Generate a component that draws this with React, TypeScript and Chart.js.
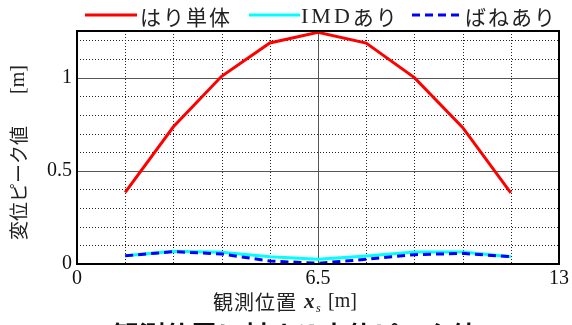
import React, { useEffect, useRef } from "react";
import { Chart, registerables } from "chart.js";

Chart.register(...registerables);

// ---- data ----
const positions = [1.3, 2.6, 3.9, 5.2, 6.5, 7.8, 9.1, 10.4, 11.7];
const beamOnly = [0.384, 0.736, 1.007, 1.186, 1.243, 1.185, 1.0, 0.733, 0.382];
const withIMD = [0.044, 0.068, 0.063, 0.039, 0.025, 0.043, 0.064, 0.065, 0.039];
const withSpring = [0.044, 0.066, 0.054, 0.016, 0.004, 0.025, 0.05, 0.057, 0.039];
const seriesNames = ["はり単体", "IMDあり", "ばねあり"];
const xTickLabels = [0, 6.5, 13];
const yTickLabels = [0, 0.5, 1];
const xGridValues = [1.3, 2.6, 3.9, 5.2, 6.5, 7.8, 9.1, 10.4, 11.7];
const yGridValues = [0.1, 0.2, 0.3, 0.4, 0.5, 0.6, 0.7, 0.8, 0.9, 1.0, 1.1, 1.2];
const xSolidGrid = [6.5];
const ySolidGrid = [0.5, 1.0];
const yAxisTitle = "変位ピーク値";
const axisUnit = "[m]";
const xAxisTitle = "観測位置";
const caption = "観測位置に対する変位ピーク値";

const SERIF = '"Liberation Serif", "DejaVu Serif", serif';
const JP = '"Noto Sans CJK JP", sans-serif';

const decorPlugin = {
  id: "decor",
  beforeDatasetsDraw(chart: any) {
    const { ctx, chartArea: a, scales } = chart;
    const xs = scales.x;
    const ys = scales.y;
    ctx.save();
    ctx.lineWidth = 1;
    for (const v of xGridValues) {
      const px = Math.round(xs.getPixelForValue(v)) + 0.5;
      const solid = xSolidGrid.some((s) => Math.abs(s - v) < 1e-6);
      ctx.beginPath();
      ctx.strokeStyle = solid ? "#555" : "#222";
      ctx.setLineDash(solid ? [] : [1, 2]);
      ctx.moveTo(px, a.top);
      ctx.lineTo(px, a.bottom);
      ctx.stroke();
    }
    for (const v of yGridValues) {
      const py = Math.round(ys.getPixelForValue(v)) + 0.5;
      const solid = ySolidGrid.some((s) => Math.abs(s - v) < 1e-6);
      ctx.beginPath();
      ctx.strokeStyle = solid ? "#555" : "#222";
      ctx.setLineDash(solid ? [] : [1, 2]);
      ctx.moveTo(a.left, py);
      ctx.lineTo(a.right, py);
      ctx.stroke();
    }
    ctx.restore();
  },
  afterDatasetsDraw(chart: any) {
    const { ctx, chartArea: a } = chart;
    ctx.save();
    ctx.strokeStyle = "#000";
    ctx.lineWidth = 2;
    ctx.setLineDash([]);
    ctx.strokeRect(a.left, a.top, a.right - a.left, a.bottom - a.top);
    ctx.restore();
  },
  afterDraw(chart: any) {
    const { ctx } = chart;
    ctx.save();
    ctx.textBaseline = "middle";
    ctx.fillStyle = "#222";

    // legend
    const ly = 15;
    const legendItems = [
      { x0: 85, x1: 137, tx: 140, color: "#ff0000", dash: [] as number[], name: seriesNames[0] },
      { x0: 249, x1: 300, tx: 301, color: "#00ffff", dash: [] as number[], name: seriesNames[1] },
      { x0: 412, x1: 463, tx: 465, color: "#0000ff", dash: [8, 5], name: seriesNames[2] },
    ];
    for (const it of legendItems) {
      ctx.beginPath();
      ctx.strokeStyle = it.color;
      ctx.lineWidth = 3;
      ctx.setLineDash(it.dash);
      ctx.moveTo(it.x0, ly);
      ctx.lineTo(it.x1, ly);
      ctx.stroke();
      ctx.setLineDash([]);
      ctx.textAlign = "left";
      let x = it.tx;
      const m = it.name.match(/^([A-Za-z]+)(.*)$/);
      if (m) {
        ctx.font = `22px ${SERIF}`;
        (ctx as any).letterSpacing = "3px";
        ctx.fillText(m[1], x, ly + 2);
        x += ctx.measureText(m[1]).width;
        ctx.font = `21px ${JP}`;
        (ctx as any).letterSpacing = "2px";
        ctx.fillText(m[2], x, ly + 2);
      } else {
        ctx.font = `21px ${JP}`;
        (ctx as any).letterSpacing = "2px";
        ctx.fillText(it.name, x, ly + 2);
      }
      (ctx as any).letterSpacing = "0px";
    }

    // y axis title
    ctx.save();
    ctx.translate(19, 0);
    ctx.rotate(-Math.PI / 2);
    ctx.textAlign = "left";
    ctx.font = `19px ${JP}`;
    ctx.fillText(yAxisTitle, -240, 0);
    ctx.font = `20px ${SERIF}`;
    ctx.fillText(axisUnit, -94, 0);
    ctx.restore();

    // x axis title
    const ty = 302;
    ctx.textAlign = "left";
    ctx.font = `20px ${JP}`;
    (ctx as any).letterSpacing = "1px";
    ctx.fillText(xAxisTitle, 213, ty);
    (ctx as any).letterSpacing = "0px";
    ctx.font = `bold italic 21px ${SERIF}`;
    ctx.fillText("x", 304, ty + 1);
    ctx.font = `italic 12px ${SERIF}`;
    ctx.fillText("s", 316, ty + 7);
    ctx.font = `20px ${SERIF}`;
    ctx.fillText(axisUnit, 328, ty);

    // caption (cut off at the bottom)
    ctx.font = `bold 26px ${JP}`;
    ctx.textBaseline = "top";
    ctx.fillStyle = "#111";
    ctx.fillText(caption, 113, 322);
    ctx.restore();
  },
};

export default function App() {
  const ref = useRef<HTMLCanvasElement | null>(null);
  useEffect(() => {
    if (!ref.current) return;
    const chart = new Chart(ref.current, {
      type: "line",
      data: {
        datasets: [
          {
            label: seriesNames[0],
            data: positions.map((x, i) => ({ x, y: beamOnly[i] })),
            borderColor: "#ff0000",
            borderWidth: 3,
            pointRadius: 0,
            tension: 0,
            fill: false,
          },
          {
            label: seriesNames[2],
            data: positions.map((x, i) => ({ x, y: withSpring[i] })),
            borderColor: "#0000ff",
            borderWidth: 3,
            borderDash: [8, 5],
            pointRadius: 0,
            tension: 0,
            fill: false,
          },
          {
            label: seriesNames[1],
            data: positions.map((x, i) => ({ x, y: withIMD[i] })),
            borderColor: "#00ffff",
            borderWidth: 3,
            pointRadius: 0,
            tension: 0,
            fill: false,
          },
        ],
      },
      options: {
        animation: false,
        responsive: false,
        maintainAspectRatio: false,
        layout: { padding: { left: 0, right: 13, top: 31, bottom: 0 } },
        plugins: { legend: { display: false }, tooltip: { enabled: false } },
        scales: {
          x: {
            type: "linear",
            min: 0,
            max: 13,
            afterBuildTicks: (s: any) => {
              s.ticks = xTickLabels.map((v) => ({ value: v }));
            },
            afterFit: (s: any) => {
              s.height = 61;
            },
            grid: { display: false, drawTicks: false },
            border: { display: false },
            ticks: {
              font: { family: SERIF, size: 20 },
              color: "#111",
              padding: 3,
              maxRotation: 0,
              autoSkip: false,
              callback: (v: any) => String(v),
            },
          },
          y: {
            type: "linear",
            min: 0,
            max: 1.25,
            afterBuildTicks: (s: any) => {
              s.ticks = yTickLabels.map((v) => ({ value: v }));
            },
            afterFit: (s: any) => {
              s.width = 77;
            },
            grid: { display: false, drawTicks: false },
            border: { display: false },
            ticks: {
              font: { family: SERIF, size: 20 },
              color: "#111",
              padding: 5,
              autoSkip: false,
              callback: (v: any) => String(v),
            },
          },
        },
      },
      plugins: [decorPlugin],
    } as any);
    return () => chart.destroy();
  }, []);
  return (
    <div
      style={{
        position: "fixed",
        left: 0,
        top: 0,
        width: 572,
        height: 325,
        overflow: "hidden",
        background: "#fff",
      }}
    >
      <canvas ref={ref} width={572} height={325} style={{ width: 572, height: 325, display: "block" }} />
    </div>
  );
}
